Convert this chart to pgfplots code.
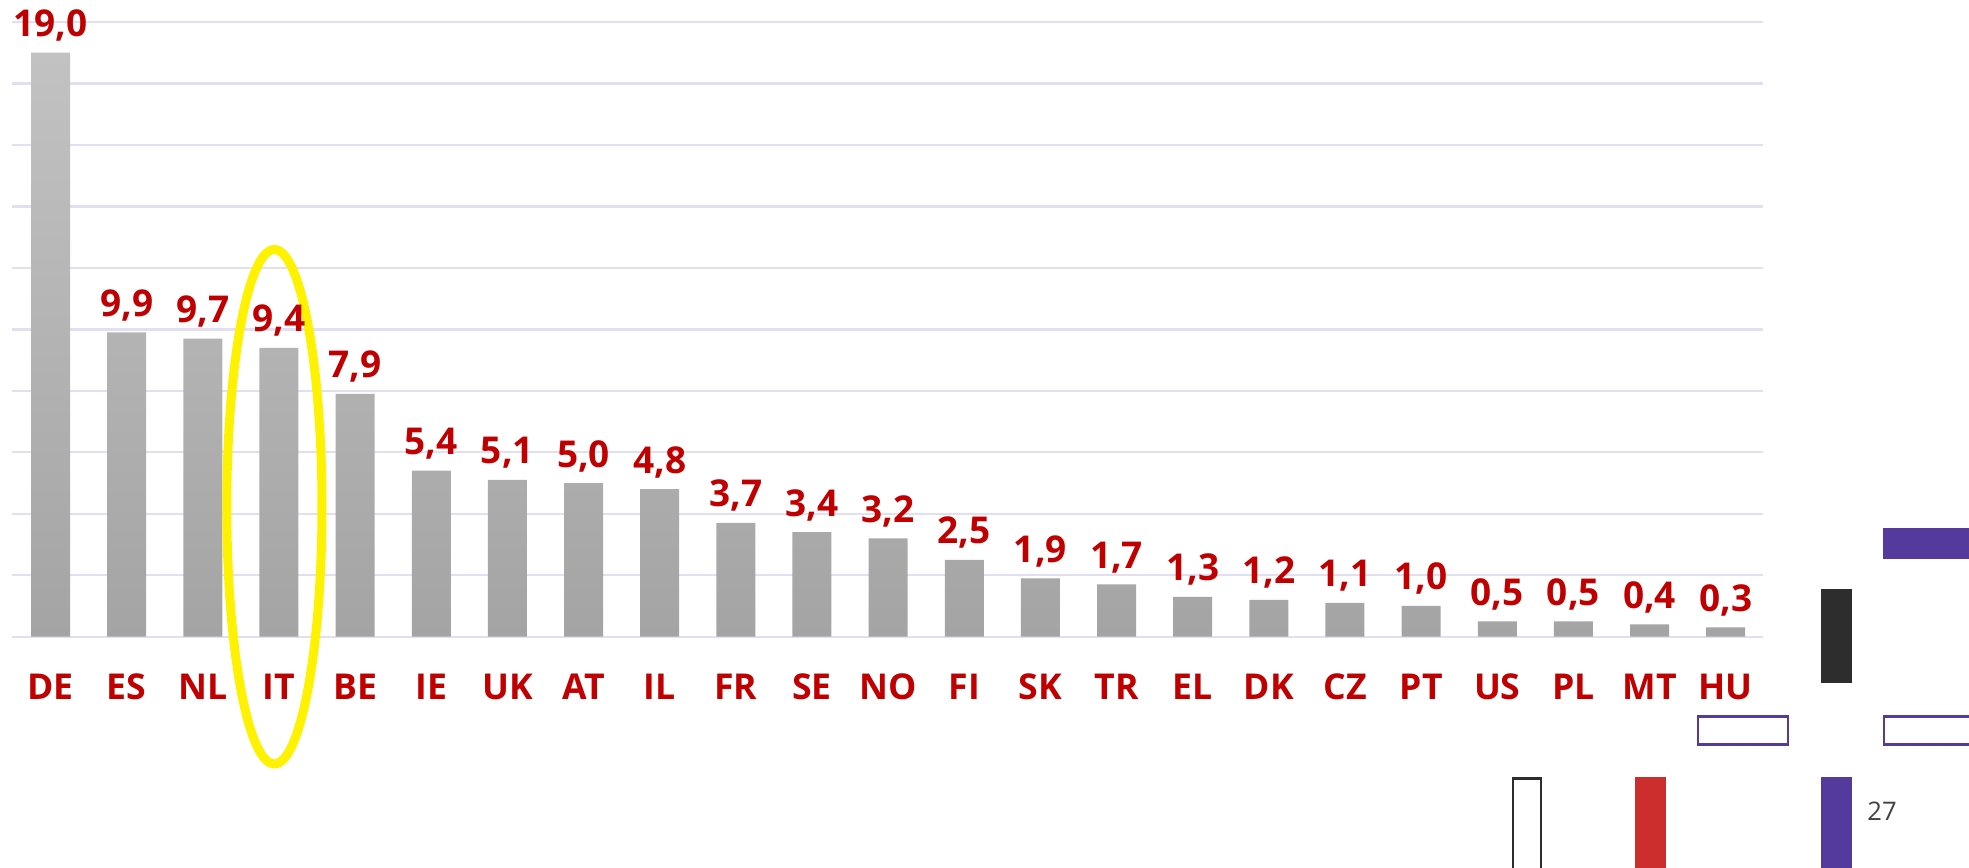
\documentclass[border=0pt]{standalone}
\usepackage{fontspec}
\setmainfont{Open Sans}
\usepackage{pgfplots}
\pgfplotsset{compat=1.18}
\definecolor{lblRed}{HTML}{C00000}
\definecolor{barTop}{HTML}{C2C2C2}
\definecolor{barBot}{HTML}{A4A4A4}
\definecolor{gridLav}{HTML}{E1DFF1}
\definecolor{slidePurple}{HTML}{553A9E}
\definecolor{slideRed}{HTML}{CC2E2E}
\definecolor{slideDark}{HTML}{2D2D2D}

\begin{document}
\begin{tikzpicture}
\useasboundingbox (0,0) rectangle (984.5pt,-433.5pt);
\begin{axis}[
  at={(6pt,-318.35pt)}, anchor=south west,
  scale only axis, width=875.5pt, height=307.35pt,
  xmin=-0.506, xmax=22.49, ymin=0, ymax=20,
  axis line style={draw=none},
  ytick={0,2,...,20}, yticklabels={},
  major tick length=0pt,
  ymajorgrids, grid style={draw=gridLav, line width=1.2pt},
  xtick={0,...,22},
  xticklabels={DE,ES,NL,IT,BE,IE,UK,AT,IL,FR,SE,NO,FI,SK,TR,EL,DK,CZ,PT,US,PL,MT,HU},
  xticklabel style={font=\fontsize{17.8}{19}\selectfont\bfseries, text=lblRed, anchor=base, yshift=-31.3pt},
  /pgf/number format/fixed, /pgf/number format/fixed zerofill,
  /pgf/number format/precision=1, /pgf/number format/use comma,
  /pgf/number format/assume math mode=true,
  clip=false,
]
\addplot[ybar, bar width=19.5pt, draw=none, top color=barTop, bottom color=barBot,
  nodes near coords,
  nodes near coords style={font=\fontsize{18.5}{20}\selectfont\bfseries, text=lblRed, anchor=base, yshift=8pt}]
  coordinates {(0,19.0) (1,9.9) (2,9.7) (3,9.4) (4,7.9) (5,5.4) (6,5.1) (7,5.0) (8,4.8)
    (9,3.7) (10,3.4) (11,3.2) (12,2.5) (13,1.9) (14,1.7) (15,1.3) (16,1.2) (17,1.1)
    (18,1.0) (19,0.5) (20,0.5) (21,0.4) (22,0.3)};
\draw[draw=yellow, line width=4.5pt] (axis cs:2.94,4.23) ellipse [x radius=23.8pt, y radius=128.6pt];
\end{axis}
% slide decoration
\fill[slidePurple] (941.3pt,-264.2pt) rectangle (990pt,-279.5pt);
\fill[slideDark] (910.5pt,-294.7pt) rectangle (926.2pt,-341.7pt);
\draw[slidePurple, line width=1.35pt] (849pt,-358.2pt) rectangle (894pt,-372.2pt);
\draw[slidePurple, line width=1.35pt] (942pt,-358.2pt) rectangle (995pt,-372.2pt);
\draw[slideDark, line width=1.35pt] (756.5pt,-389.3pt) rectangle (770.5pt,-445pt);
\fill[slideRed] (817.5pt,-388.7pt) rectangle (833pt,-445pt);
\fill[slidePurple] (910.4pt,-388.7pt) rectangle (925.9pt,-445pt);
\node[text=slideDark!90, font=\fontsize{12.8}{14}\selectfont] at (941pt,-405.5pt) {27};
\end{tikzpicture}
\end{document}
